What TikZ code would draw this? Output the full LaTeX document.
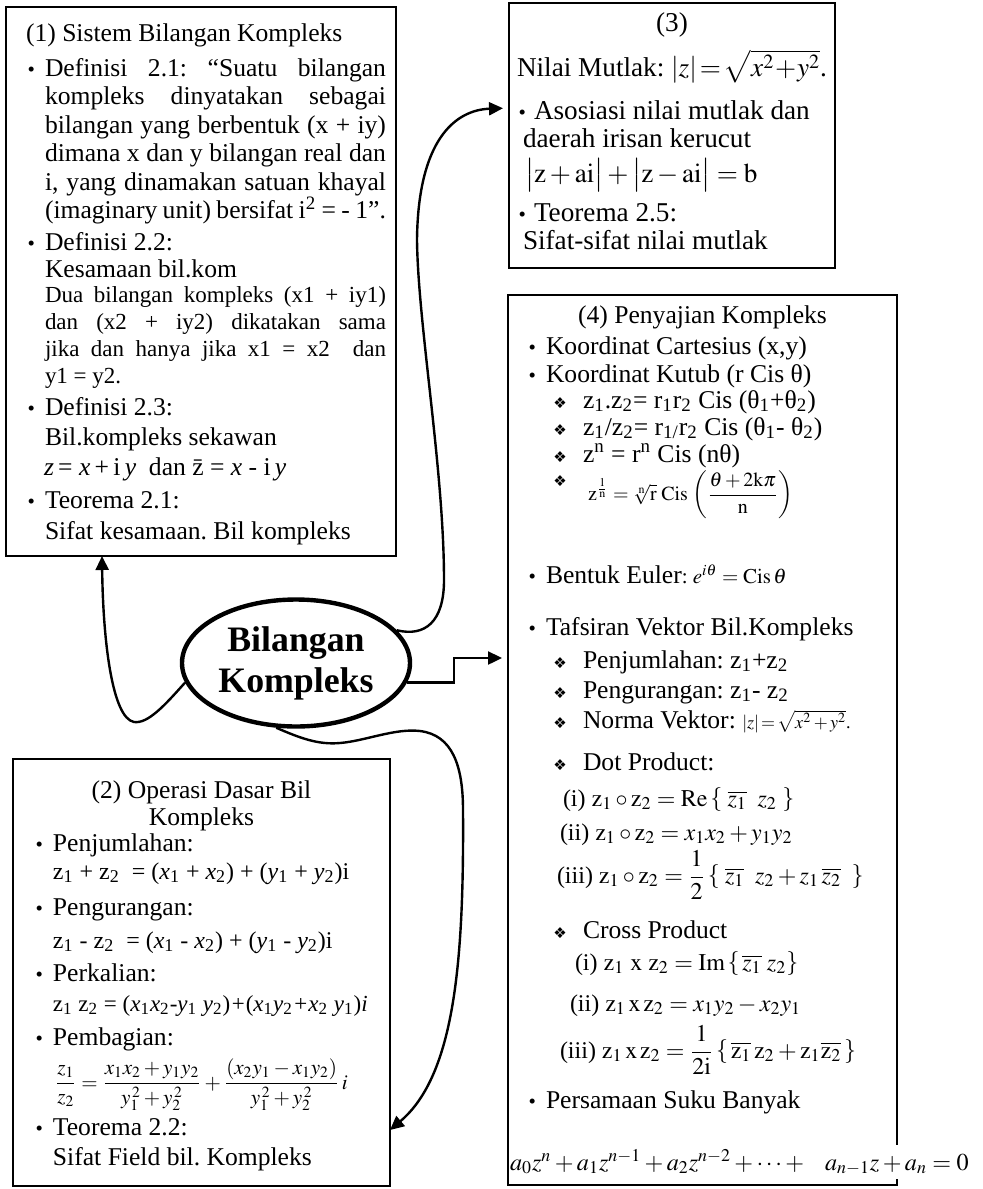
\documentclass[tikz,border=0pt]{standalone}
\usepackage{amsmath}
\usepackage{mathptmx}
\usepackage{fontspec}
\setmainfont{Liberation Serif}
\newfontfamily\dingfont{DejaVu Sans}
\usetikzlibrary{shapes.geometric,arrows.meta}
\newcommand\fbody{\fontsize{12.8}{14.25}\selectfont}
\newcommand\fsml{\fontsize{11.5}{13.5}\selectfont}
\newcommand\fform{\fontsize{12}{14}\selectfont}
\newcommand\fbig{\fontsize{13.6}{15}\selectfont}
\newcommand\bul{{\fontsize{10.5}{10.5}\selectfont\textbullet}}
\newcommand\bi{\noindent\llap{\bul\hspace{5pt}}}
\newcommand\bis{\noindent\llap{\bul\hspace{4pt}}}
\newcommand\sbs[1]{\textsubscript{#1}}
\newcommand\sps[1]{\textsuperscript{#1}}
\newcommand\ti[1]{\textit{#1}}
\newcommand\dchar{\symbol{"2756}}
\tikzset{
 box/.style={draw, line width=0.9pt, inner sep=0pt, outer sep=0pt, anchor=north west},
 txt/.style={anchor=base west, inner sep=0pt, outer sep=0pt, font=\fbody},
 ctxt/.style={anchor=base, inner sep=0pt, outer sep=0pt, font=\fbody},
 para/.style={txt, text width=#1, align=justify},
 dmark/.style={anchor=base, inner sep=0pt, outer sep=0pt, font=\dingfont\fontsize{7.5}{7.5}\selectfont},
 conn/.style={line width=1.2pt, -{Triangle[length=7pt,width=6.5pt]}},
 hub/.style={ellipse, draw, line width=2.2pt, minimum width=114pt, minimum height=63.5pt, inner sep=0pt, align=center, font=\fontsize{17.9}{20.5}\selectfont\bfseries},
}
\begin{document}
\frenchspacing
\begin{tikzpicture}[x=0.5pt,y=-0.5pt]
\useasboundingbox (0,0) rectangle (983,1189);
\fill[white] (0,0) rectangle (983,1189);
% boxes
\node[box, minimum width=195pt, minimum height=274.5pt] (b1) at (6,7) {};
\node[box, minimum width=163pt, minimum height=132.5pt] (b3) at (509,3) {};
\node[box, minimum width=194.5pt, minimum height=445pt] (b4) at (508,295) {};
\node[box, minimum width=188.5pt, minimum height=213.5pt] (b2) at (13,759) {};
\node[hub] (ell) at (296,663) {Bilangan\\Kompleks};
% box 1
\node[txt] (h1) at (26,41) {(1) Sistem Bilangan Kompleks};
\node[para=170.5pt] (d21) at (45,76) {\bi Definisi 2.1: “Suatu bilangan\linebreak kompleks dinyatakan sebagai\linebreak bilangan yang berbentuk (x + iy)\linebreak dimana x dan y bilangan real dan\linebreak i, yang dinamakan satuan khayal\linebreak \hbox to\linewidth{\spaceskip=0.18em plus 1em\relax (imaginary unit) bersifat i\sps{2} = - 1”.}};
\node[txt] (d22) at (45,250) {\bi Definisi 2.2:};
\node[txt] (d22a) at (45,277) {Kesamaan bil.kom};
\node[para=170.5pt, font=\fsml] (d22b) at (45,302) {Dua bilangan kompleks (x1 + iy1)\linebreak dan (x2 + iy2) dikatakan sama\linebreak jika dan hanya jika x1 = x2 \ dan\linebreak y1 = y2.};
\node[txt] (d23) at (45,415) {\bi Definisi 2.3:};
\node[txt] (d23a) at (45,445) {Bil.kompleks sekawan};
\node[txt] (d23b) at (44,475) {\ti{z}\,= \ti{x}\,+\,i\,\ti{y} \ dan \=z = \ti{x} - i\,\ti{y}};
\node[txt] (t21) at (45,508) {\bi Teorema 2.1:};
\node[txt] (t21a) at (45,539) {Sifat kesamaan. Bil kompleks};
% box 3
\node[ctxt, font=\fbig] (h3) at (672,31) {(3)};
\node[ctxt, font=\fbig] (h3a) at (672,76) {Nilai Mutlak: $\lvert z\rvert\!=\!\sqrt{x^{2}\!+\!y^{2}}$.};
\node[txt, font=\fbig] (a3) at (534,119) {\bis Asosiasi nilai mutlak dan};
\node[txt, font=\fbig] (a3a) at (523,147) {daerah irisan kerucut};
\node[txt, font=\fbig] (a3b) at (525,182) {$\bigl\lvert \mathrm{z+ai}\bigr\rvert + \bigl\lvert \mathrm{z-ai}\bigr\rvert = \mathrm{b}$};
\node[txt, font=\fbig] (t25) at (534,221) {\bis Teorema 2.5:};
\node[txt, font=\fbig] (t25a) at (523,249) {Sifat-sifat nilai mutlak};
% box 4
\node[ctxt] (h4) at (702.5,323) {(4) Penyajian Kompleks};
\node[txt] (k1) at (546,354) {\bi Koordinat Cartesius (x,y)};
\node[txt] (k2) at (546,382) {\bi Koordinat Kutub (r Cis θ)};
\node[dmark] (m1) at (560,408) {\dchar};
\node[txt] (k2a) at (583,408) {z\sbs{1}.z\sbs{2}= r\sbs{1}r\sbs{2} Cis (θ\sbs{1}+θ\sbs{2})};
\node[dmark] (m2) at (560,435) {\dchar};
\node[txt] (k2b) at (583,435) {z\sbs{1}/z\sbs{2}= r\sbs{1/}r\sbs{2} Cis (θ\sbs{1}- θ\sbs{2})};
\node[dmark] (m3) at (560,462) {\dchar};
\node[txt] (k2c) at (583,462) {z\sps{n} = r\sps{n} Cis (nθ)};
\node[dmark] (m4) at (560,486) {\dchar};
\node[txt, font=\fontsize{10}{12}\selectfont] (k2d) at (588,500) {$\mathrm{z}^{\frac{1}{\mathrm{n}}} = \sqrt[\mathrm{n}]{\mathrm{r}}\;\mathrm{Cis}\,\left(\dfrac{\theta + 2\mathrm{k}\pi}{\mathrm{n}}\right)$};
\node[txt] (eu) at (546,583) {\bi Bentuk Euler{\fontsize{10.5}{12}\selectfont: $e^{i\theta} = \mathrm{Cis}\,\theta$}};
\node[txt] (tv) at (546,635) {\bi Tafsiran Vektor Bil.Kompleks};
\node[dmark] (m5) at (560,668) {\dchar};
\node[txt] (tv1) at (583,668) {Penjumlahan: z\sbs{1}+z\sbs{2}};
\node[dmark] (m6) at (560,698) {\dchar};
\node[txt] (tv2) at (583,698) {Pengurangan: z\sbs{1}- z\sbs{2}};
\node[dmark] (m7) at (560,728) {\dchar};
\node[txt] (tv3) at (583,728) {Norma Vektor: {\fontsize{9}{10}\selectfont$\lvert z\rvert\!=\!\sqrt{x^{2}+y^{2}}$.}};
\node[dmark] (m8) at (560,770) {\dchar};
\node[txt] (tv4) at (583,770) {Dot Product:};
\node[txt, font=\fform] (dp1) at (563,806) {(i) $\mathrm{z}_1\circ\mathrm{z}_2 = \mathrm{Re}\left\{\;\overline{z_1}\;\; z_2\;\right\}$};
\node[txt, font=\fform] (dp2) at (560,840) {(ii) $\mathrm{z}_1\circ\mathrm{z}_2 = x_1x_2 + y_1y_2$};
\node[txt, font=\fform] (dp3) at (557,883) {(iii) $\mathrm{z}_1\circ\mathrm{z}_2 = \dfrac{1}{2}\left\{\;\overline{z_1}\;\; z_2 + z_1\,\overline{z_2}\;\;\right\}$};
\node[dmark] (m9) at (560,938) {\dchar};
\node[txt] (tv5) at (583,938) {Cross Product};
\node[txt, font=\fform] (cp1) at (575,970) {(i) $\mathrm{z}_1\ \mathrm{x}\ \mathrm{z}_2 = \mathrm{Im}\left\{\,\overline{z_1}\;z_2\right\}$};
\node[txt, font=\fform] (cp2) at (570,1011) {(ii) $\mathrm{z}_1\,\mathrm{x}\,\mathrm{z}_2 = x_1y_2 - x_2y_1$};
\node[txt, font=\fform] (cp3) at (560,1058) {(iii) $\mathrm{z}_1\,\mathrm{x}\,\mathrm{z}_2 = \dfrac{1}{2\mathrm{i}}\left\{\,\overline{\mathrm{z}_1}\,\mathrm{z}_2 + \mathrm{z}_1\overline{\mathrm{z}_2}\,\right\}$};
\node[txt] (ps) at (546,1108) {\bi Persamaan Suku Banyak};
\node[txt, fill=white, inner xsep=0pt, inner ysep=2pt, font=\fontsize{12.1}{15}\selectfont] (eq) at (510,1170) {$a_0z^n + a_1z^{n-1} + a_2z^{n-2} + \cdots + \enspace\; a_{n-1}z + a_n = 0$};
% box 2
\node[ctxt] (h2) at (201.5,798) {(2) Operasi Dasar Bil};
\node[ctxt] (h2a) at (201.5,825) {Kompleks};
\node[txt] (o1) at (53,851) {\bi Penjumlahan:};
\node[txt, font=\fform] (o1a) at (53,879) {z\sbs{1} + z\sbs{2} \ = (\ti{x}\sbs{1} + \ti{x}\sbs{2}) + (\ti{y}\sbs{1} + \ti{y}\sbs{2})i};
\node[txt] (o2) at (53,915) {\bi Pengurangan:};
\node[txt, font=\fform] (o2a) at (53,948) {z\sbs{1} - z\sbs{2} \ = (\ti{x}\sbs{1} - \ti{x}\sbs{2}) + (\ti{y}\sbs{1} - \ti{y}\sbs{2})i};
\node[txt] (o3) at (53,981) {\bi Perkalian:};
\node[txt, font=\fontsize{11.5}{14}\selectfont] (o3a) at (53,1011) {z\sbs{1} z\sbs{2} = (\ti{x}\sbs{1}\ti{x}\sbs{2}-\ti{y}\sbs{1} \ti{y}\sbs{2})\ti{+}(\ti{x}\sbs{1}\ti{y}\sbs{2}\ti{+}\ti{x}\sbs{2} \ti{y}\sbs{1})\ti{i}};
\node[txt] (o4) at (53,1045) {\bi Pembagian:};
\node[txt, font=\fontsize{10.5}{13}\selectfont] (o4a) at (55,1089) {$\dfrac{z_1}{z_2} = \dfrac{x_1x_2 + y_1y_2}{y_1^{\,2} + y_2^{\,2}} + \dfrac{(x_2y_1 - x_1y_2)}{y_1^{\,2} + y_2^{\,2}}\,i$};
\node[txt] (o5) at (53,1135) {\bi Teorema 2.2:};
\node[txt] (o5a) at (53,1165) {Sifat Field bil. Kompleks};
% connectors
\draw[conn] (ell.190) .. controls (165,705) and (148,724) .. (134,722) .. controls (112,718) and (103,640) .. ([xshift=48pt]b1.south west);
\draw[conn, shorten >=3pt] (ell.18) .. controls (425,637) and (444,622) .. (444,580) .. controls (444,470) and (418,325) .. (417,240) .. controls (418,140) and (455,110) .. ([yshift=-52.5pt]b3.north west);
\draw[conn, shorten >=3pt] (ell.-10) -- ++(23.5pt,0) |- ([yshift=-181.5pt]b4.north west);
\draw[conn] (ell.253) .. controls (300,738) and (318,745) .. (340,743) .. controls (365,741) and (395,728) .. (420,731) .. controls (452,735) and (463,765) .. (463,810) .. controls (464,960) and (455,1075) .. ([yshift=-185.5pt]b2.north east);
\end{tikzpicture}
\end{document}
